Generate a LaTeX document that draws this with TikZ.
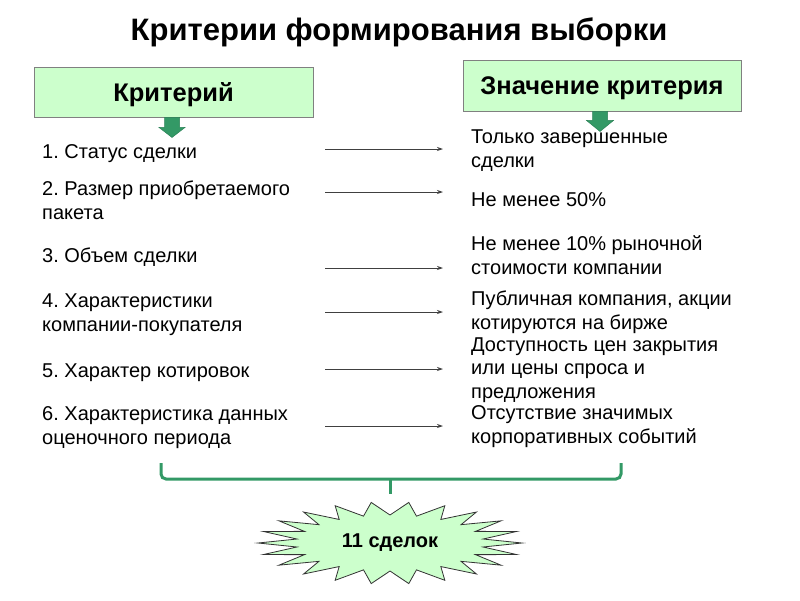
\documentclass[tikz,border=0pt]{standalone}
\usepackage{fontspec}
\setmainfont{Liberation Sans}
\usetikzlibrary{arrows.meta,calc}
\definecolor{boxgreen}{HTML}{CCFFCC}
\definecolor{darkgreen}{HTML}{339966}
\definecolor{lineg}{HTML}{404040}
\definecolor{boxline}{HTML}{808080}
\newcommand\twoline[2]{\vtop{\hbox{#1}\hbox{#2}}}
\newcommand\threeline[3]{\vtop{\baselineskip=23.5pt\hbox{#1}\hbox{#2}\hbox{#3}}}
\frenchspacing
\begin{document}
\begin{tikzpicture}[x=1pt,y=-1pt,
  hdr/.style={draw=boxline, fill=boxgreen, line width=0.9pt, inner sep=0pt,
    text height=18.3pt, text depth=0pt,
    font=\bfseries\fontsize{25.5}{29}\selectfont},
  item/.style={anchor=base west, inner sep=0pt, font=\fontsize{20}{24}\selectfont},
  conn/.style={-{Stealth[length=6pt,width=4pt]}, draw=lineg, line width=0.8pt},
  dnarrow/.style={fill=darkgreen, draw=darkgreen!85!black, line width=0.5pt},
  bracestyle/.style={draw=darkgreen, line width=3pt, rounded corners=5pt},
  burststyle/.style={fill=boxgreen, draw=black!80, line width=0.8pt}
]
\useasboundingbox (0,0) rectangle (800,600);

% title
\node[anchor=base, inner sep=0pt, font=\bfseries\fontsize{31}{35}\selectfont] (title) at (399,40) {Критерии формирования выборки};

% header boxes
\node[hdr, minimum width=279pt, minimum height=50pt] (lbox) at (173.5,92) {Критерий};
\node[hdr, minimum width=278pt, minimum height=51pt] (rbox) at (602,85.5) {Значение критерия};

% green down arrows
\draw[dnarrow] ([xshift=-1.5pt]lbox.south) ++(-7.5,0) -- ++(15,0) -- ++(0,10) -- ++(5.5,0) -- ++(-13,10) -- ++(-13,-10) -- ++(5.5,0) -- cycle;
\draw[dnarrow] ([xshift=-2pt]rbox.south) ++(-7.5,0) -- ++(15,0) -- ++(0,9) -- ++(6,0) -- ++(-13.5,11) -- ++(-13.5,-11) -- ++(6,0) -- cycle;

% left items
\node[item] (l1) at (42,158) {1. Статус сделки};
\node[item] (l2) at (42,195) {\twoline{2. Размер приобретаемого}{пакета}};
\node[item] (l3) at (42,262) {3. Объем сделки};
\node[item] (l4) at (42,307) {\twoline{4. Характеристики}{компании-покупателя}};
\node[item] (l5) at (42,377) {5. Характер котировок};
\node[item] (l6) at (42,420) {\twoline{6. Характеристика данных}{оценочного периода}};

% right items
\node[item] (r1) at (471,143) {\twoline{Только завершенные}{сделки}};
\node[item] (r2) at (471,206) {Не менее 50\%};
\node[item] (r3) at (471,250) {\twoline{Не менее 10\% рыночной}{стоимости компании}};
\node[item] (r4) at (471,305) {\twoline{Публичная компания, акции}{котируются на бирже}};
\node[item] (r5) at (471,351) {\threeline{Доступность цен закрытия}{или цены спроса и}{предложения}};
\node[item] (r6) at (471,419) {\twoline{Отсутствие значимых}{корпоративных событий}};

% connectors
\foreach \i/\yy in {1/149,2/192,3/268,4/312,5/369,6/426}{
  \coordinate (s\i) at (325,\yy);
  \coordinate (e\i) at (443,\yy);
  \draw[conn] (s\i) -- (e\i);
}

% brace
\coordinate (bl) at (161,463);
\coordinate (br) at (621,463);
\coordinate (bm) at (390,479);
\coordinate (bt) at (390,494);
\draw[bracestyle] (bl) -- (161,479) -- (621,479) -- (br);
\draw[draw=darkgreen, line width=3pt] (bm) -- (bt);

% starburst
\coordinate (bc) at (390,543);
\draw[burststyle] ($(bc)+(0:132 and 41)$)
  \foreach \i in {0,...,21}{
    -- ($(bc)+({\i*360/22}:132 and 41)$) -- ($(bc)+({\i*360/22+180/22}:94 and 28)$)
  } -- cycle;
\node[inner sep=0pt, font=\bfseries\fontsize{20}{24}\selectfont] (burst) at (bc) {11 сделок};
\end{tikzpicture}
\end{document}
